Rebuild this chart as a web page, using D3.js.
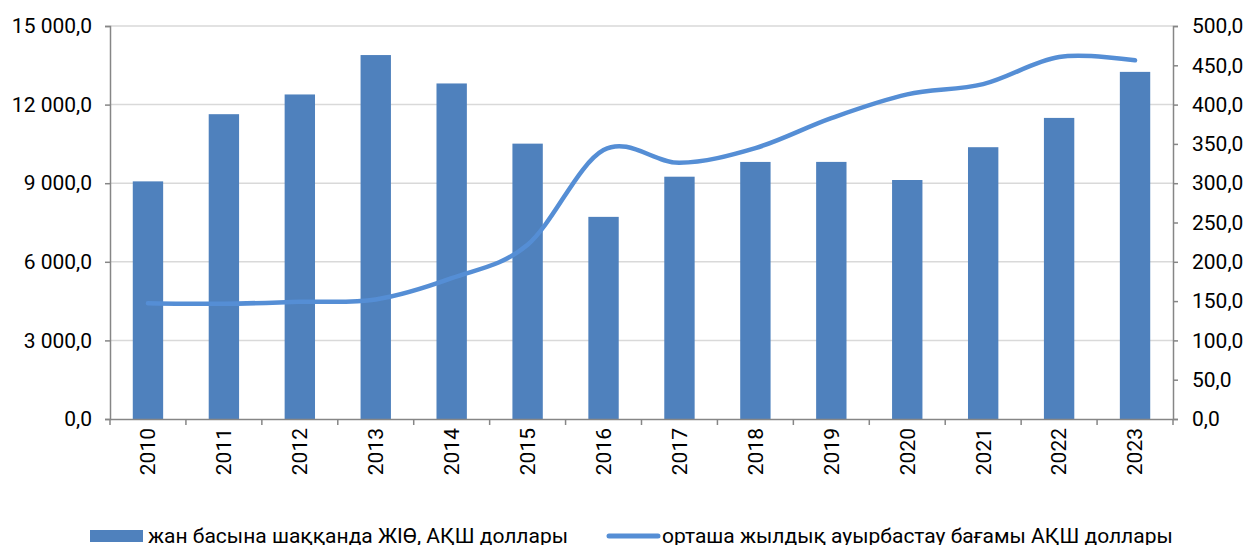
<!DOCTYPE html>
<head>
  <meta charset="utf-8">
  <title>gdp per capita and exchange rate</title>
  <script src="https://cdn.jsdelivr.net/npm/d3@7"></script>
  <style>
    body { margin: 0; background: #fff; }
    text { font-family: Roboto, "Noto Sans", sans-serif; fill: #000; }
  </style>
</head>
<body>
<script>
    // chart data
    var years = ["2010", "2011", "2012", "2013", "2014", "2015", "2016",
                 "2017", "2018", "2019", "2020", "2021", "2022", "2023"];
    var gdpPerCapita = [9070, 11634, 12387, 13891, 12807, 10510, 7715,
                        9248, 9812, 9813, 9122, 10374, 11492, 13249];
    var exchangeRate = [147.4, 146.6, 149.1, 152.1, 179.2, 221.7, 342.2,
                        326.0, 344.7, 382.8, 413.0, 426.0, 460.5, 456.3];
    var leftTicks = [0, 3000, 6000, 9000, 12000, 15000];
    var rightTicks = [0, 50, 100, 150, 200, 250, 300, 350, 400, 450, 500];
    var barLabel = "жан басына шаққанда ЖІӨ, АҚШ доллары";
    var lineLabel = "орташа жылдық ауырбастау бағамы АҚШ доллары";

    var W = 1246, H = 545;
    var m = { left: 110, right: 1173, top: 26, bottom: 419 };
    var fs = "21px";

    var fmt = function(v) {
        var s = d3.format(",.1f")(v);
        return s.replace(/,/g, " ").replace(".", ",");
    };

    var svg = d3.select("body").append("svg")
        .attr("width", W).attr("height", H);

    var x = d3.scaleBand().domain(years).range([m.left, m.right]);
    var yL = d3.scaleLinear().domain([0, 15000]).range([m.bottom, m.top]);
    var yR = d3.scaleLinear().domain([0, 500]).range([m.bottom, m.top]);

    // grid
    svg.append("g").selectAll("line")
        .data(leftTicks.slice(1))
        .enter().append("line")
        .attr("x1", m.left).attr("x2", m.right)
        .attr("y1", d => yL(d)).attr("y2", d => yL(d))
        .style("stroke", "#d9d9d9").style("stroke-width", 1.5);

    // bars
    var bw = x.bandwidth() * 0.4;
    svg.append("g").selectAll("rect")
        .data(years)
        .enter().append("rect")
        .attr("x", (d) => x(d) + (x.bandwidth() - bw) / 2)
        .attr("width", bw)
        .attr("y", (d, i) => yL(gdpPerCapita[i]))
        .attr("height", (d, i) => m.bottom - yL(gdpPerCapita[i]))
        .style("fill", "#4f81bd");

    // line
    var line = d3.line()
        .x((d, i) => x(years[i]) + x.bandwidth() / 2)
        .y(d => yR(d))
        .curve(d3.curveCardinal.tension(0));
    svg.append("path")
        .datum(exchangeRate)
        .attr("d", line)
        .style("fill", "none")
        .style("stroke", "#558ed5")
        .style("stroke-width", 4.5)
        .style("stroke-linecap", "round");

    // axes
    var axisColor = "#868686";
    var gL = svg.append("g")
        .attr("transform", "translate(" + m.left + ",0)")
        .call(d3.axisLeft(yL).tickValues(leftTicks).tickFormat(fmt).tickSize(5).tickPadding(13));
    var gR = svg.append("g")
        .attr("transform", "translate(" + m.right + ",0)")
        .call(d3.axisRight(yR).tickValues(rightTicks).tickFormat(fmt).tickSize(5).tickPadding(14));
    var gB = svg.append("g")
        .attr("transform", "translate(0," + m.bottom + ")")
        .call(d3.axisBottom(x).tickSize(0).tickFormat(d => d));

    [gL, gR, gB].forEach(function(g) {
        g.select(".domain").style("stroke", axisColor).style("stroke-width", 1.5);
        g.selectAll(".tick line").style("stroke", axisColor).style("stroke-width", 1.5);
        g.selectAll("text").style("font-family", "Roboto").style("font-size", fs).style("fill", "#000");
    });

    gB.selectAll(".tick text")
        .attr("transform", "rotate(-90)")
        .attr("x", -9).attr("y", 0).attr("dy", "0.35em")
        .style("text-anchor", "end");

    // category boundary ticks
    svg.append("g").selectAll("line")
        .data(years.concat(["end"]))
        .enter().append("line")
        .attr("x1", (d, i) => m.left + i * x.step())
        .attr("x2", (d, i) => m.left + i * x.step())
        .attr("y1", m.bottom).attr("y2", m.bottom + 6)
        .style("stroke", axisColor).style("stroke-width", 1.5);

    // legend
    var lg = svg.append("g");
    lg.append("rect").attr("x", 90).attr("y", 530).attr("width", 53).attr("height", 12)
        .style("fill", "#4f81bd");
    lg.append("text").attr("x", 148).attr("y", 543).text(barLabel)
        .style("font-size", fs);
    lg.append("line").attr("x1", 609).attr("x2", 658).attr("y1", 536).attr("y2", 536)
        .style("stroke", "#558ed5").style("stroke-width", 5).style("stroke-linecap", "round");
    lg.append("text").attr("x", 662).attr("y", 543).text(lineLabel)
        .style("font-size", fs);
</script>
</body>
